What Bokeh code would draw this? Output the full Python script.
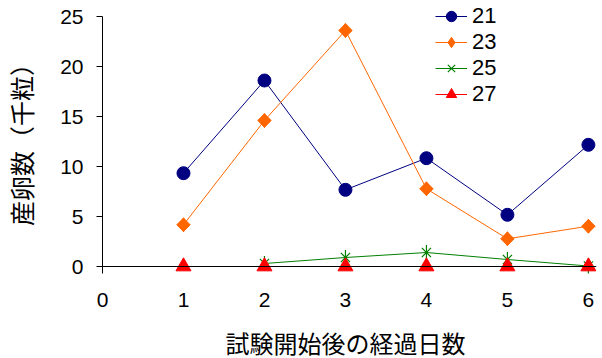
import math
from bokeh.plotting import figure
from bokeh.models import Range1d, FixedTicker, Span, Title
from bokeh.embed import file_html
from bokeh.resources import INLINE

days = [1, 2, 3, 4, 5, 6]
s21 = [9.33, 18.6, 7.67, 10.83, 5.17, 12.17]
s23 = [4.17, 14.6, 23.6, 7.77, 2.77, 4.03]
days25 = [2, 3, 4, 5, 6]
s25 = [0.3, 0.9, 1.4, 0.7, 0.05]
s27 = [0, 0, 0, 0, 0, 0]
x_ticks = [0, 1, 2, 3, 4, 5, 6]
y_ticks = [0, 5, 10, 15, 20, 25]
x_title = "試験開始後の経過日数"
y_title = "産卵数（千粒）"

p = figure(width=602, height=358, x_range=Range1d(0, 6.1), y_range=Range1d(-0.8, 26.4),
           min_border_left=102, min_border_right=6, min_border_top=2, min_border_bottom=84,
           output_backend="svg", toolbar_location=None)
p.outline_line_color = None
p.grid.visible = False
p.background_fill_color = "white"
p.border_fill_color = "white"

# y axis
ya = p.yaxis[0]
ya.ticker = FixedTicker(ticks=y_ticks)
ya.bounds = (-0.7, 25)
ya.major_tick_out = 6
ya.major_tick_in = 0
ya.minor_tick_line_color = None
ya.axis_line_color = "black"
ya.major_tick_line_color = "black"
ya.major_label_standoff = 13
ya.major_label_text_font = "Liberation Sans"
ya.major_label_text_font_size = "21px"
ya.major_label_text_color = "black"
ya.axis_label = y_title
ya.axis_label_text_font = "Noto Sans CJK JP"
ya.axis_label_text_font_size = "25px"
ya.axis_label_text_font_style = "normal"
ya.axis_label_text_color = "black"
ya.axis_label_standoff = 18

# x axis (labels only), baseline drawn at y = 0
xa = p.xaxis[0]
xa.ticker = FixedTicker(ticks=x_ticks)
xa.major_tick_out = 0
xa.major_tick_in = 0
xa.minor_tick_line_color = None
xa.axis_line_color = None
xa.major_label_standoff = 18
xa.major_label_text_font = "Liberation Sans"
xa.major_label_text_font_size = "21px"
xa.major_label_text_color = "black"

p.add_layout(Span(location=0, dimension="width", line_color="black", line_width=1))

# spacer between tick labels and the x title
p.add_layout(Title(text=" ", text_font_size="2px", standoff=11), "below")
p.add_layout(Title(text=x_title, align="left", offset=123, standoff=-4,
                   text_font="Noto Sans CJK JP", text_font_size="24px",
                   text_font_style="normal", text_color="black"), "below")

# 21
p.line(days, s21, line_color="#000080", line_width=1, legend_label="21")
p.scatter(days, s21, marker="circle", size=13, fill_color="#000080", line_color="#000080",
          legend_label="21")
# 23
p.line(days, s23, line_color="#FF6600", line_width=1, legend_label="23")
p.scatter(days, s23, marker="square", size=9.5, angle=math.pi / 4,
          fill_color="#FF6600", line_color="#FF6600")
p.scatter(days, s23, marker="diamond", size=14, fill_color="#FF6600", line_color="#FF6600",
          legend_label="23")
# 25 (star: x with a vertical bar)
p.line(days25, s25, line_color="#008000", line_width=1, legend_label="25")
p.scatter(days25, s25, marker="x", size=13, line_color="#008000", line_width=1.2,
          legend_label="25")
p.scatter(days25, s25, marker="dash", size=15, angle=math.pi / 2, line_color="#008000",
          line_width=1.2)
# 27
p.line(days, s27, line_color="#FF0000", line_width=1, legend_label="27")
p.scatter(days, s27, marker="triangle", size=15, fill_color="#FF0000", line_color="#FF0000",
          legend_label="27")

lg = p.legend[0]
lg.location = (333, 167)
lg.border_line_color = None
lg.background_fill_alpha = 0
lg.padding = 0
lg.margin = 0
lg.spacing = 0
lg.glyph_width = 32
lg.glyph_height = 26
lg.label_height = 26
lg.label_standoff = 5
lg.label_text_font = "Liberation Sans"
lg.label_text_font_size = "22px"
lg.label_text_color = "black"

open("out.html", "w").write(file_html(p, INLINE))
